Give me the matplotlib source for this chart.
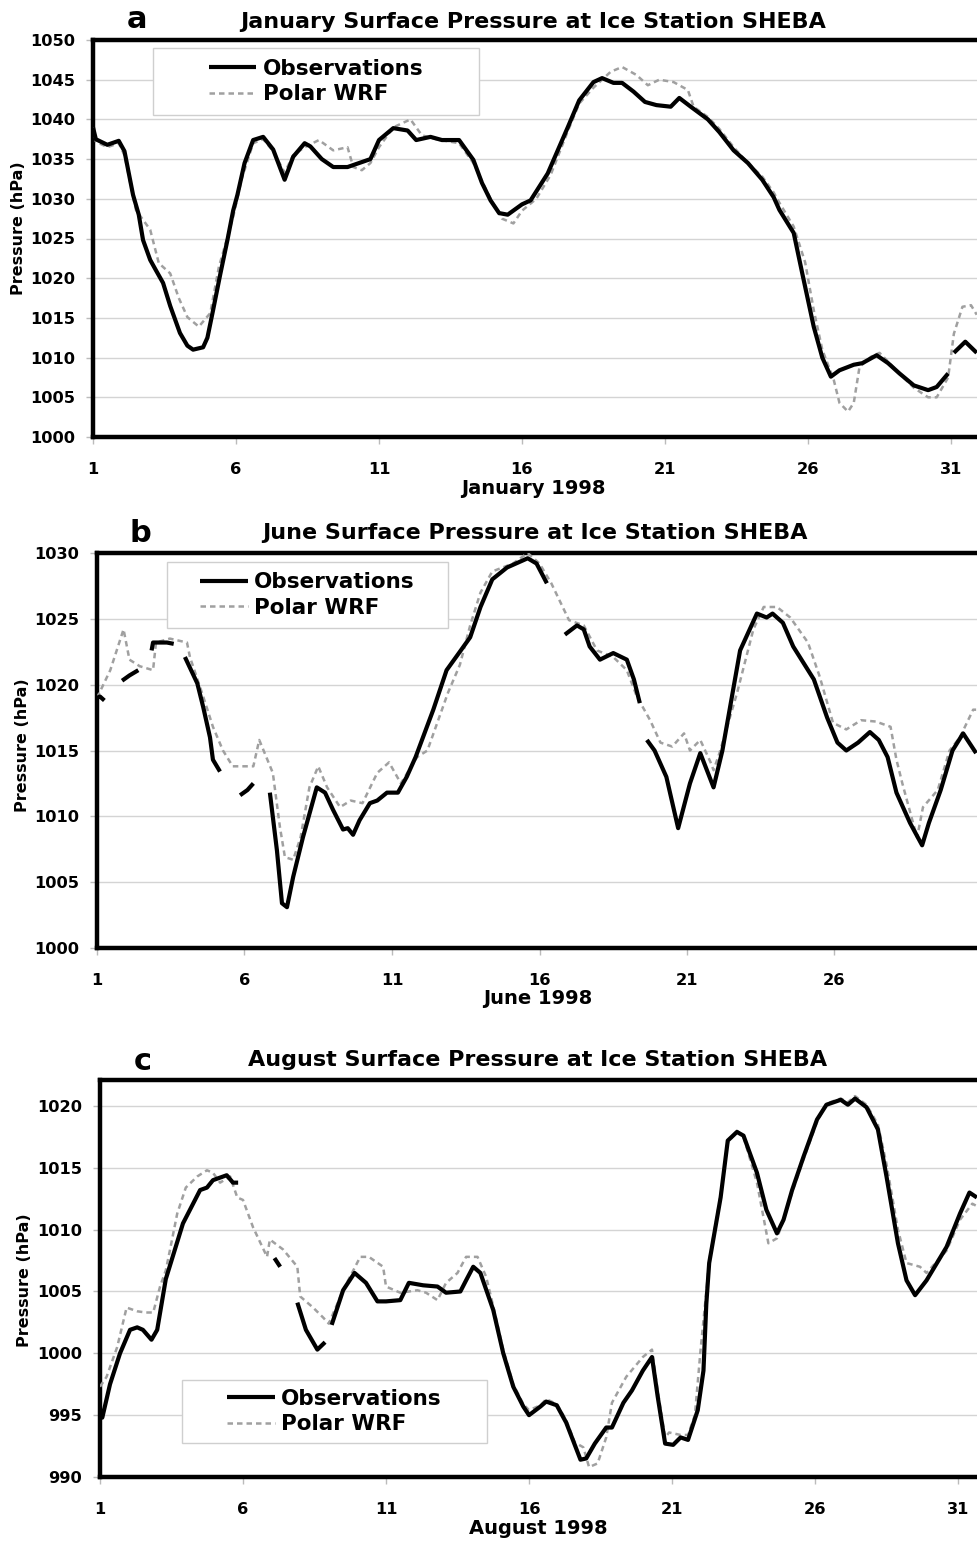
import numpy as np
import matplotlib
matplotlib.use("Agg")
import matplotlib.pyplot as plt
from matplotlib.patches import Rectangle

plt.rcParams["font.family"] = ["DejaVu Sans"]
plt.rcParams["font.weight"] = "bold"

nan = np.nan

# January 1998 (day of month, hPa)
jan_obs_day = [1.0, 1.1, 1.5, 1.9, 2.1, 2.4, 2.6, 2.75, 3.0, 3.2, 3.45, 3.7, 4.04, 4.3, 4.5, 4.85,
               5.0, 5.2, 5.45, 5.7, 5.9, 6.05, 6.3, 6.6, 6.95, 7.3, 7.7, 8.0, 8.4, 8.6, 9.0, 9.4,
               9.9, 10.3, 10.7, 11.0, 11.5, 12.0, 12.3, 12.8, 13.2, 13.8, 14.3, 14.6, 14.9, 15.2,
               15.5, 16.0, 16.3, 16.9, 17.6, 18.0, 18.5, 18.8, 19.2, 19.5, 19.9, 20.3, 20.7, 21.2,
               21.5, 21.9, 22.5, 22.9, 23.4, 23.9, 24.4, 24.8, 25.0, 25.5, 25.8, 26.2, 26.5, 26.8,
               27.1, 27.6, 27.9, 28.4, 28.8, 29.2, 29.7, 30.2, 30.5, 30.9, 31.0, 31.1, 31.5, 31.9]
jan_obs = [1039.0, 1037.5, 1036.8, 1037.3, 1036.0, 1030.5, 1028.0, 1024.8, 1022.3, 1021.0, 1019.4,
           1016.5, 1013.1, 1011.5, 1011.0, 1011.3, 1012.5, 1016.0, 1020.5, 1024.8, 1028.5, 1030.5,
           1034.5, 1037.4, 1037.8, 1036.2, 1032.4, 1035.3, 1037.0, 1036.6, 1035.0, 1034.0, 1034.0,
           1034.5, 1035.0, 1037.4, 1038.9, 1038.6, 1037.4, 1037.8, 1037.4, 1037.4, 1034.9, 1032.0,
           1029.8, 1028.2, 1028.0, 1029.3, 1029.8, 1033.2, 1039.0, 1042.4, 1044.7, 1045.2, 1044.6,
           1044.6, 1043.5, 1042.2, 1041.8, 1041.6, 1042.7, 1041.6, 1040.0, 1038.4, 1036.1, 1034.5,
           1032.4, 1030.2, 1028.6, 1025.7, 1020.6, 1013.9, 1010.0, 1007.6, 1008.4, 1009.1, 1009.3,
           1010.3, 1009.3, 1008.0, 1006.5, 1005.9, 1006.3, 1008.0, nan, 1010.6, 1012.0, 1010.6]
jan_wrf_day = [1.0, 1.1, 1.5, 1.9, 2.1, 2.5, 3.0, 3.3, 3.7, 4.0, 4.3, 4.7, 5.1, 5.4, 5.9, 6.2, 6.6,
               6.95, 7.3, 7.7, 8.0, 8.4, 8.9, 9.4, 9.9, 10.1, 10.4, 10.7, 11.0, 11.5, 12.1, 12.5,
               13.0, 13.8, 14.3, 14.9, 15.3, 15.7, 16.0, 16.5, 17.0, 17.6, 18.0, 18.5, 19.1, 19.5,
               20.0, 20.4, 20.8, 21.3, 21.8, 22.0, 22.5, 22.9, 23.4, 23.9, 24.4, 24.8, 25.0, 25.5,
               25.9, 26.2, 26.5, 26.9, 27.1, 27.4, 27.6, 27.8, 28.2, 28.5, 28.8, 29.2, 29.7, 30.2,
               30.5, 30.9, 31.1, 31.4, 31.7, 31.9]
jan_wrf = [1039.0, 1037.2, 1036.5, 1037.0, 1035.5, 1028.6, 1026.1, 1021.9, 1020.6, 1017.5, 1015.1,
           1013.9, 1015.6, 1021.4, 1027.7, 1032.5, 1037.0, 1037.5, 1036.0, 1033.3, 1035.5, 1036.5,
           1037.4, 1036.1, 1036.5, 1034.0, 1033.6, 1034.5, 1036.5, 1039.0, 1040.0, 1038.0, 1037.5,
           1037.0, 1034.5, 1030.0, 1027.5, 1026.9, 1028.5, 1030.0, 1033.0, 1038.5, 1042.0, 1044.0,
           1046.0, 1046.6, 1045.6, 1044.3, 1045.0, 1044.7, 1043.7, 1041.6, 1040.3, 1038.8, 1036.5,
           1034.5, 1032.8, 1030.8, 1029.5, 1026.5, 1022.0, 1016.0, 1011.0, 1007.2, 1004.3, 1003.2,
           1004.3, 1008.8, 1010.1, 1010.6, 1009.5, 1008.0, 1006.2, 1005.0, 1005.0, 1007.5, 1013.0,
           1016.4, 1016.6, 1015.4]

# June 1998, observation record has gaps
jun_obs_day = [1.0, 1.1, 1.25, 1.5, 1.85, 2.1, 2.4, 2.6, 2.85, 2.9, 3.37, 3.6, 3.8, 3.98, 4.4, 4.6,
               4.83, 4.93, 5.17, 5.5, 5.85, 6.1, 6.3, 6.6, 6.86, 7.1, 7.27, 7.44, 7.65, 7.98, 8.45,
               8.73, 9.0, 9.34, 9.5, 9.68, 9.9, 10.25, 10.5, 10.83, 11.2, 11.5, 11.8, 12.4, 12.85,
               13.3, 13.65, 14.0, 14.4, 14.9, 15.6, 15.9, 16.25, 16.5, 16.86, 17.27, 17.5, 17.7,
               18.05, 18.5, 18.96, 19.2, 19.4, 19.5, 19.64, 19.9, 20.3, 20.7, 21.1, 21.45, 21.9,
               22.2, 22.8, 23.37, 23.7, 23.9, 24.25, 24.6, 25.3, 25.75, 26.1, 26.4, 26.8, 27.2,
               27.5, 27.8, 28.1, 28.56, 28.97, 29.2, 29.6, 30.0, 30.36, 30.8]
jun_obs = [1019.0, 1019.1, 1018.8, nan, 1020.3, 1020.7, 1021.1, nan, 1022.6, 1023.2, 1023.2, 1023.1,
           nan, 1022.1, 1020.1, 1018.3, 1016.0, 1014.3, 1013.4, nan, 1011.6, 1012.0, 1012.5, nan,
           1011.8, 1007.4, 1003.4, 1003.1, 1005.4, 1008.4, 1012.2, 1011.8, 1010.5, 1009.0, 1009.1,
           1008.6, 1009.7, 1011.0, 1011.2, 1011.8, 1011.8, 1013.0, 1014.5, 1018.1, 1021.1, 1022.5,
           1023.6, 1025.9, 1028.0, 1028.9, 1029.6, 1029.2, 1027.7, nan, 1023.8, 1024.5, 1024.2,
           1022.9, 1021.9, 1022.4, 1021.9, 1020.4, 1018.6, nan, 1015.8, 1015.0, 1013.0, 1009.1,
           1012.5, 1014.8, 1012.2, 1015.0, 1022.6, 1025.4, 1025.1, 1025.4, 1024.7, 1022.9, 1020.4,
           1017.5, 1015.6, 1015.0, 1015.6, 1016.4, 1015.8, 1014.5, 1011.8, 1009.5, 1007.8, 1009.5,
           1012.0, 1015.0, 1016.3, 1014.8]
jun_wrf_day = [1.0, 1.45, 1.9, 2.1, 2.45, 2.9, 3.0, 3.47, 4.05, 4.15, 4.6, 4.93, 5.27, 5.6, 6.3,
               6.5, 6.96, 7.2, 7.37, 7.65, 7.9, 8.2, 8.5, 8.8, 9.24, 9.6, 10.0, 10.5, 10.9, 11.3,
               11.85, 12.2, 12.9, 13.3, 13.65, 14.0, 14.4, 15.1, 15.6, 16.0, 16.4, 17.0, 17.5,
               17.95, 18.5, 18.96, 19.3, 19.75, 20.1, 20.5, 20.9, 21.1, 21.45, 21.8, 21.9, 22.1,
               22.7, 23.25, 23.6, 24.05, 24.5, 25.1, 25.5, 25.95, 26.4, 26.9, 27.4, 27.9, 28.1,
               28.3, 28.7, 28.8, 29.0, 29.5, 29.9, 30.25, 30.7, 30.8]
jun_wrf = [1019.0, 1021.1, 1024.2, 1021.9, 1021.4, 1021.1, 1023.2, 1023.5, 1023.2, 1022.1, 1019.1,
           1016.8, 1015.0, 1013.8, 1013.8, 1015.8, 1013.3, 1009.2, 1006.9, 1006.7, 1008.4, 1012.2,
           1013.8, 1012.2, 1010.7, 1011.2, 1011.0, 1013.3, 1014.1, 1012.5, 1014.5, 1015.0, 1019.4,
           1021.5, 1024.5, 1027.0, 1028.6, 1029.2, 1030.0, 1029.2, 1027.7, 1024.9, 1024.5, 1022.6,
           1022.1, 1021.1, 1019.1, 1017.3, 1015.6, 1015.3, 1016.3, 1015.0, 1015.8, 1014.1, 1013.5,
           1014.8, 1019.4, 1024.2, 1025.9, 1025.9, 1025.1, 1023.2, 1020.6, 1017.1, 1016.6, 1017.3,
           1017.2, 1016.8, 1014.3, 1012.5, 1009.2, 1008.4, 1010.7, 1012.0, 1015.0, 1016.0, 1018.1,
           1018.1]

# August 1998
aug_obs_day = [1.0, 1.08, 1.35, 1.7, 2.05, 2.3, 2.5, 2.8, 3.0, 3.3, 3.9, 4.5, 4.74, 4.95, 5.43,
               5.65, 5.83, 6.5, 7.1, 7.3, 7.6, 7.9, 8.2, 8.6, 8.87, 9.0, 9.1, 9.5, 9.9, 10.3, 10.7,
               11.0, 11.5, 11.8, 12.3, 12.8, 13.1, 13.6, 13.8, 14.05, 14.3, 14.75, 15.1, 15.45,
               15.8, 16.0, 16.4, 16.6, 16.97, 17.3, 17.8, 18.0, 18.3, 18.7, 18.9, 19.3, 19.6,
               19.98, 20.3, 20.5, 20.76, 21.04, 21.3, 21.56, 21.9, 22.1, 22.2, 22.3, 22.7, 22.95,
               23.27, 23.5, 23.97, 24.3, 24.67, 24.9, 25.2, 25.6, 26.07, 26.4, 26.9, 27.15, 27.4,
               27.8, 28.2, 28.5, 28.9, 29.2, 29.5, 29.9, 30.6, 31.07, 31.4, 31.66]
aug_obs = [995.5, 994.8, 997.5, 1000.0, 1001.9, 1002.1, 1001.9, 1001.1, 1001.9, 1006.0, 1010.5,
           1013.2, 1013.4, 1014.0, 1014.4, 1013.8, 1013.8, nan, 1007.7, 1007.0, nan, 1004.1,
           1001.9, 1000.3, 1000.9, nan, 1002.3, 1005.1, 1006.5, 1005.7, 1004.2, 1004.2, 1004.3,
           1005.7, 1005.5, 1005.4, 1004.9, 1005.0, 1005.9, 1007.0, 1006.5, 1003.5, 1000.0, 997.3,
           995.7, 995.0, 995.7, 996.1, 995.8, 994.4, 991.4, 991.5, 992.7, 994.0, 994.0, 996.0,
           997.0, 998.6, 999.7, 996.5, 992.7, 992.6, 993.2, 993.0, 995.4, 998.6, 1004.0, 1007.3,
           1012.6, 1017.2, 1017.9, 1017.6, 1014.6, 1011.6, 1009.7, 1010.8, 1013.2, 1015.9, 1018.9,
           1020.1, 1020.5, 1020.1, 1020.6, 1019.9, 1018.1, 1014.3, 1008.9, 1005.9, 1004.7, 1005.9,
           1008.6, 1011.3, 1013.0, 1012.6]
aug_wrf_day = [1.0, 1.23, 1.6, 1.93, 2.3, 2.6, 2.86, 3.1, 3.3, 3.45, 3.7, 4.0, 4.4, 4.74, 4.95,
               5.2, 5.55, 5.8, 6.0, 6.35, 6.84, 6.94, 7.4, 7.9, 8.0, 8.45, 8.8, 9.0, 9.5, 10.1,
               10.4, 10.9, 11.0, 11.5, 12.1, 12.4, 12.8, 13.1, 13.5, 13.8, 14.2, 14.5, 14.75,
               15.1, 15.45, 15.8, 16.0, 16.4, 16.6, 16.97, 17.3, 17.6, 17.9, 18.1, 18.4, 18.7,
               18.9, 19.4, 19.98, 20.3, 20.5, 20.76, 20.9, 21.3, 21.56, 21.8, 22.0, 22.2, 22.3,
               22.7, 22.95, 23.27, 23.5, 23.97, 24.37, 24.67, 24.9, 25.2, 25.6, 26.07, 26.4, 26.9,
               27.15, 27.4, 27.8, 28.2, 28.5, 28.9, 29.2, 29.67, 29.9, 30.6, 31.07, 31.5, 31.66]
aug_wrf = [997.3, 998.1, 1000.5, 1003.7, 1003.4, 1003.3, 1003.3, 1005.4, 1006.7, 1008.4, 1011.3,
           1013.4, 1014.3, 1014.8, 1014.6, 1013.8, 1014.3, 1012.6, 1012.4, 1010.2, 1007.8, 1009.2,
           1008.4, 1007.0, 1004.6, 1003.7, 1002.9, 1002.4, 1005.1, 1007.8, 1007.8, 1007.0, 1005.4,
           1004.9, 1005.1, 1004.9, 1004.3, 1005.7, 1006.5, 1007.8, 1007.8, 1006.2, 1003.8, 1000.3,
           997.5, 995.9, 995.4, 995.8, 996.3, 995.9, 994.6, 992.8, 992.4, 990.8, 991.1, 993.2,
           996.0, 998.1, 999.7, 1000.3, 997.0, 993.2, 993.6, 993.4, 993.4, 995.0, 1000.3, 1005.0,
           1007.5, 1012.8, 1017.0, 1018.0, 1017.5, 1013.8, 1008.9, 1009.3, 1010.8, 1013.0, 1015.7,
           1018.7, 1020.2, 1020.6, 1020.3, 1020.8, 1020.1, 1018.5, 1015.3, 1010.0, 1007.3, 1007.0,
           1006.5, 1008.3, 1010.8, 1012.1, 1011.9]

W, H = 977, 1541


def fx(px):
    return px / W


def fy(py):
    return 1 - py / H


fig = plt.figure(figsize=(W / 100, H / 100), dpi=100)

panels = [
    dict(letter="a", title="January Surface Pressure at Ice Station SHEBA", xlabel="January 1998",
         obs=(jan_obs_day, jan_obs), wrf=(jan_wrf_day, jan_wrf),
         box=(93, 40, 28.6 * 31, 397), xlim=(1, 32), ylim=(1000, 1050),
         yticks=range(1000, 1051, 5), xticks=range(1, 32, 5),
         legbox=(0.0677, 0.811, 0.3677, 0.1688),
         letter_xy=(137, 20), title_xy=(533, 22), xlabel_xy=(533, 489), ylabel_xy=(19, 228)),
    dict(letter="b", title="June Surface Pressure at Ice Station SHEBA", xlabel="June 1998",
         obs=(jun_obs_day, jun_obs), wrf=(jun_wrf_day, jun_wrf),
         box=(97, 553, 29.5 * 30, 395), xlim=(1, 31), ylim=(1000, 1030),
         yticks=range(1000, 1031, 5), xticks=range(1, 27, 5),
         legbox=(0.0791, 0.810, 0.3175, 0.167),
         letter_xy=(140, 533), title_xy=(535, 533), xlabel_xy=(538, 999), ylabel_xy=(23, 745)),
    dict(letter="c", title="August Surface Pressure at Ice Station SHEBA", xlabel="August 1998",
         obs=(aug_obs_day, aug_obs), wrf=(aug_wrf_day, aug_wrf),
         box=(100, 1080, 28.6 * 31, 397), xlim=(1, 32), ylim=(990, 1022.1),
         yticks=range(990, 1021, 5), xticks=range(1, 32, 5),
         legbox=(0.0925, 0.0856, 0.344, 0.159),
         letter_xy=(143, 1062), title_xy=(538, 1060), xlabel_xy=(538, 1528), ylabel_xy=(25, 1280)),
]

for p in panels:
    x0, y0, w, h = p["box"]
    ax = fig.add_axes([fx(x0), fy(y0 + h), w / W, h / H])
    ax.set_xlim(*p["xlim"])
    ax.set_ylim(*p["ylim"])

    ax.plot(p["wrf"][0], p["wrf"][1], color="#a0a0a0", lw=1.8, ls=(0, (2.2, 1.6)),
            label="Polar WRF", zorder=3)
    ax.plot(p["obs"][0], p["obs"][1], color="black", lw=3.0, label="Observations",
            zorder=4, solid_capstyle="butt")

    ax.set_yticks(list(p["yticks"]))
    ax.set_xticks(list(p["xticks"]))
    ax.yaxis.grid(True, color="#d4d4d4", lw=1.0)
    ax.set_axisbelow(True)
    for side in ("left", "bottom", "top"):
        ax.spines[side].set_linewidth(3.2)
    ax.spines["right"].set_visible(False)
    ax.tick_params(axis="y", length=5, width=1, color="#bbbbbb", pad=8, labelsize=11.7)
    ax.tick_params(axis="x", length=5, width=1, color="#bbbbbb", pad=13, labelsize=11.7)
    for lab in ax.get_xticklabels() + ax.get_yticklabels():
        lab.set_fontweight("bold")

    # legend frame drawn separately so the entries sit centred in a wide box
    bx, by, bw, bh = p["legbox"]
    ax.add_patch(Rectangle((bx, by), bw, bh, transform=ax.transAxes, facecolor="white",
                           edgecolor="#cfcfcf", lw=1.0, zorder=5))
    handles, labels = ax.get_legend_handles_labels()
    leg = ax.legend(handles[::-1], labels[::-1], fontsize=15.5, frameon=False,
                    handlelength=2.2, handletextpad=0.3, borderpad=0.0, labelspacing=0.25,
                    loc="center", bbox_to_anchor=(bx + bw / 2, by + bh / 2))
    leg.set_zorder(6)
    for t in leg.get_texts():
        t.set_fontweight("bold")

    fig.text(fx(p["letter_xy"][0]), fy(p["letter_xy"][1]), p["letter"], fontsize=22,
             fontweight="bold", ha="center", va="center")
    fig.text(fx(p["title_xy"][0]), fy(p["title_xy"][1]), p["title"], fontsize=16,
             fontweight="bold", ha="center", va="center")
    fig.text(fx(p["xlabel_xy"][0]), fy(p["xlabel_xy"][1]), p["xlabel"], fontsize=14,
             fontweight="bold", ha="center", va="center")
    fig.text(fx(p["ylabel_xy"][0]), fy(p["ylabel_xy"][1]), "Pressure (hPa)", fontsize=11.5,
             fontweight="bold", ha="center", va="center", rotation=90)

fig.savefig("out.png", dpi=100)
